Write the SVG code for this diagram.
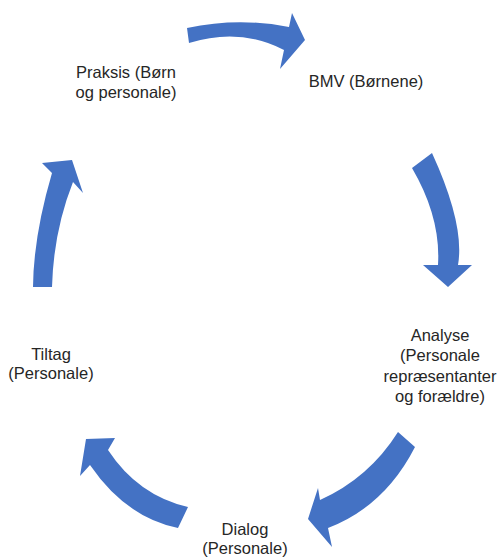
<svg xmlns="http://www.w3.org/2000/svg" width="501" height="558" viewBox="0 0 501 558">
<style>
.lbl{font-family:"Liberation Sans","Open Sans","DejaVu Sans",sans-serif;font-size:16.5px;fill:#262626;text-anchor:middle}
.arr{fill:#4472C4;stroke:none}
</style>
<rect width="501" height="558" fill="#ffffff"/>
<g id="connectors">
<path id="a1" class="arr" d="M187,28 Q238.5,17 289,27 L292,13 L305,40 L280,69 L284,50 Q240,27 189,43 Z"/>
<path id="a2" class="arr" d="M432,153 Q465,225 458,265 L472,265 L448,287 L423,265 L438,265 Q441,217.5 412,168 Z"/>
<path id="a3" class="arr" d="M415,447 Q384.5,506.5 328,528 L332,547 L308,519 L318,488 L320,500 Q369,478 398,432 Z"/>
<path id="a4" class="arr" d="M178,528 Q126,517.5 90,465 L80,476 L86,439 L115,438 L108,450 Q138,495.5 188,507 Z"/>
<path id="a5" class="arr" d="M33,287 Q33.5,236 52,173 L42,163 L72,160 L83,193 L73,182 Q53.5,231.5 52,287 Z"/>
</g>
<g id="praksis"><text class="lbl" x="126" y="78">Praksis (Børn</text><text class="lbl" x="126" y="97.5">og personale)</text></g>
<g id="bmv"><text class="lbl" x="366" y="87">BMV (Børnene)</text></g>
<g id="analyse"><text class="lbl" x="440" y="341">Analyse</text><text class="lbl" x="440" y="361">(Personale</text><text class="lbl" x="440" y="381.5">repræsentanter</text><text class="lbl" x="440" y="401.5">og forældre)</text></g>
<g id="dialog"><text class="lbl" x="245" y="535">Dialog</text><text class="lbl" x="245" y="554">(Personale)</text></g>
<g id="tiltag"><text class="lbl" x="51" y="360">Tiltag</text><text class="lbl" x="51" y="379">(Personale)</text></g>
</svg>
